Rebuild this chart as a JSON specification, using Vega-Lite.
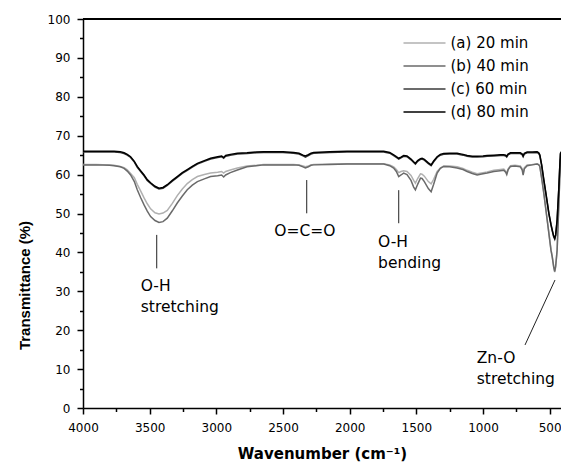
{
  "$schema": "https://vega.github.io/schema/vega-lite/v6.json",
  "width": 478,
  "height": 389,
  "autosize": {"type": "none"},
  "padding": {"left": 83, "top": 19, "right": 0, "bottom": 59},
  "background": "white",
  "config": {
    "view": {"stroke": null},
    "axis": {
      "grid": false,
      "domainColor": "black",
      "domainWidth": 1.5,
      "tickColor": "black",
      "tickWidth": 1.5,
      "labelColor": "black",
      "labelFont": "DejaVu Sans",
      "labelFontSize": 12,
      "labelOverlap": false,
      "labelFlush": false,
      "labelBound": false,
      "titleColor": "black"
    },
    "axisX": {
      "titleFont": "DejaVu Sans",
      "titleFontSize": 15,
      "titleFontWeight": "bold",
      "titlePadding": 13,
      "labelPadding": 8
    },
    "axisY": {
      "titleFont": "Liberation Sans",
      "titleFontSize": 15,
      "titleFontWeight": "bold",
      "titleX": -59,
      "titleY": 266,
      "titleBaseline": "middle",
      "titleAlign": "center",
      "labelPadding": 7
    }
  },
  "datasets": {
    "spectra": [
      {"w":4000,"a":62.6,"b":62.5,"c":65.8,"d":66.0},
      {"w":3900,"a":62.6,"b":62.5,"c":65.8,"d":66.0},
      {"w":3800,"a":62.5,"b":62.4,"c":65.8,"d":66.0},
      {"w":3767,"a":62.4,"b":62.3,"c":65.8,"d":66.0},
      {"w":3720,"a":62.1,"b":62.0,"c":65.7,"d":65.9},
      {"w":3692,"a":61.8,"b":61.6,"c":65.4,"d":65.6},
      {"w":3668,"a":61.2,"b":60.9,"c":65.0,"d":65.2},
      {"w":3643,"a":60.3,"b":59.9,"c":64.4,"d":64.6},
      {"w":3615,"a":59.2,"b":58.2,"c":63.2,"d":63.4},
      {"w":3593,"a":57.5,"b":56.1,"c":61.9,"d":62.1},
      {"w":3568,"a":55.8,"b":54.1,"c":60.8,"d":61.0},
      {"w":3542,"a":54.0,"b":52.2,"c":59.7,"d":59.9},
      {"w":3518,"a":52.5,"b":50.6,"c":58.5,"d":58.7},
      {"w":3493,"a":51.2,"b":49.2,"c":57.7,"d":57.9},
      {"w":3460,"a":50.2,"b":48.2,"c":56.8,"d":57.0},
      {"w":3430,"a":49.9,"b":47.7,"c":56.3,"d":56.5},
      {"w":3400,"a":50.1,"b":47.9,"c":56.5,"d":56.7},
      {"w":3368,"a":50.8,"b":48.8,"c":57.2,"d":57.4},
      {"w":3330,"a":52.6,"b":50.7,"c":58.3,"d":58.5},
      {"w":3293,"a":54.6,"b":52.7,"c":59.3,"d":59.5},
      {"w":3255,"a":56.3,"b":54.5,"c":60.3,"d":60.5},
      {"w":3218,"a":57.7,"b":56.1,"c":61.1,"d":61.3},
      {"w":3180,"a":58.7,"b":57.3,"c":61.9,"d":62.1},
      {"w":3142,"a":59.5,"b":58.2,"c":62.7,"d":62.9},
      {"w":3090,"a":60.0,"b":58.9,"c":63.4,"d":63.6},
      {"w":3043,"a":60.4,"b":59.5,"c":64.0,"d":64.2},
      {"w":2990,"a":60.6,"b":59.7,"c":64.4,"d":64.6},
      {"w":2960,"a":60.8,"b":59.9,"c":64.6,"d":64.8},
      {"w":2945,"a":60.4,"b":59.4,"c":64.2,"d":64.4},
      {"w":2930,"a":60.8,"b":59.9,"c":64.7,"d":64.9},
      {"w":2895,"a":61.2,"b":60.5,"c":65.0,"d":65.2},
      {"w":2842,"a":61.7,"b":61.2,"c":65.3,"d":65.5},
      {"w":2770,"a":62.2,"b":62.0,"c":65.4,"d":65.6},
      {"w":2700,"a":62.4,"b":62.3,"c":65.6,"d":65.8},
      {"w":2645,"a":62.6,"b":62.5,"c":65.7,"d":65.9},
      {"w":2500,"a":62.6,"b":62.5,"c":65.7,"d":65.9},
      {"w":2420,"a":62.6,"b":62.5,"c":65.5,"d":65.7},
      {"w":2380,"a":62.5,"b":62.4,"c":65.3,"d":65.5},
      {"w":2350,"a":62.2,"b":62.0,"c":64.8,"d":65.0},
      {"w":2332,"a":62.0,"b":61.7,"c":64.5,"d":64.8},
      {"w":2310,"a":62.2,"b":62.0,"c":64.9,"d":65.1},
      {"w":2290,"a":62.5,"b":62.4,"c":65.3,"d":65.5},
      {"w":2270,"a":62.6,"b":62.5,"c":65.5,"d":65.7},
      {"w":2150,"a":62.7,"b":62.6,"c":65.7,"d":65.9},
      {"w":2019,"a":62.8,"b":62.7,"c":65.8,"d":66.0},
      {"w":1900,"a":62.8,"b":62.7,"c":65.8,"d":66.0},
      {"w":1745,"a":62.8,"b":62.7,"c":65.8,"d":66.0},
      {"w":1700,"a":62.5,"b":62.3,"c":65.5,"d":65.7},
      {"w":1670,"a":62.0,"b":61.7,"c":64.9,"d":65.1},
      {"w":1650,"a":61.3,"b":60.8,"c":64.4,"d":64.6},
      {"w":1632,"a":60.5,"b":59.5,"c":64.0,"d":64.2},
      {"w":1615,"a":60.8,"b":59.9,"c":64.3,"d":64.5},
      {"w":1595,"a":61.0,"b":60.4,"c":64.7,"d":64.9},
      {"w":1570,"a":60.8,"b":60.0,"c":64.6,"d":64.8},
      {"w":1540,"a":59.8,"b":58.5,"c":63.8,"d":64.0},
      {"w":1520,"a":58.5,"b":56.8,"c":63.1,"d":63.3},
      {"w":1507,"a":57.8,"b":56.1,"c":62.7,"d":62.9},
      {"w":1490,"a":59.0,"b":57.5,"c":63.4,"d":63.6},
      {"w":1469,"a":60.2,"b":59.1,"c":63.9,"d":64.1},
      {"w":1457,"a":60.1,"b":59.0,"c":64.0,"d":64.2},
      {"w":1440,"a":59.6,"b":58.2,"c":63.7,"d":63.9},
      {"w":1410,"a":58.2,"b":56.4,"c":62.8,"d":63.0},
      {"w":1389,"a":57.6,"b":55.6,"c":62.3,"d":62.5},
      {"w":1370,"a":58.8,"b":57.5,"c":63.3,"d":63.5},
      {"w":1344,"a":60.8,"b":60.4,"c":64.4,"d":64.6},
      {"w":1320,"a":61.7,"b":61.6,"c":65.0,"d":65.2},
      {"w":1295,"a":62.2,"b":62.1,"c":65.2,"d":65.4},
      {"w":1250,"a":62.2,"b":62.0,"c":65.3,"d":65.5},
      {"w":1194,"a":62.0,"b":61.7,"c":65.3,"d":65.5},
      {"w":1150,"a":61.6,"b":61.3,"c":65.0,"d":65.2},
      {"w":1119,"a":61.1,"b":60.8,"c":64.7,"d":64.9},
      {"w":1080,"a":60.6,"b":60.3,"c":64.5,"d":64.7},
      {"w":1044,"a":60.2,"b":59.9,"c":64.5,"d":64.7},
      {"w":1000,"a":60.5,"b":60.2,"c":64.6,"d":64.8},
      {"w":969,"a":60.7,"b":60.4,"c":64.7,"d":64.9},
      {"w":919,"a":61.1,"b":60.8,"c":64.8,"d":65.0},
      {"w":870,"a":61.3,"b":61.0,"c":64.9,"d":65.1},
      {"w":844,"a":61.4,"b":61.1,"c":64.9,"d":65.1},
      {"w":830,"a":60.9,"b":60.6,"c":64.8,"d":65.0},
      {"w":822,"a":60.4,"b":60.0,"c":64.5,"d":64.7},
      {"w":812,"a":61.4,"b":61.2,"c":65.1,"d":65.3},
      {"w":794,"a":62.3,"b":62.1,"c":65.4,"d":65.6},
      {"w":760,"a":62.4,"b":62.2,"c":65.4,"d":65.6},
      {"w":720,"a":62.2,"b":62.0,"c":65.4,"d":65.6},
      {"w":706,"a":61.5,"b":61.2,"c":65.1,"d":65.3},
      {"w":699,"a":60.3,"b":59.9,"c":64.6,"d":64.8},
      {"w":690,"a":61.8,"b":61.5,"c":65.3,"d":65.5},
      {"w":669,"a":62.5,"b":62.3,"c":65.6,"d":65.8},
      {"w":630,"a":62.6,"b":62.5,"c":65.6,"d":65.8},
      {"w":594,"a":62.8,"b":62.7,"c":65.7,"d":65.9},
      {"w":582,"a":62.6,"b":62.5,"c":65.4,"d":65.6},
      {"w":574,"a":62.2,"b":62.1,"c":64.9,"d":65.1},
      {"w":560,"a":59.2,"b":59.0,"c":62.3,"d":62.5},
      {"w":544,"a":55.4,"b":55.2,"c":58.5,"d":58.7},
      {"w":525,"a":50.2,"b":50.0,"c":54.3,"d":54.5},
      {"w":506,"a":45.1,"b":44.9,"c":49.9,"d":50.1},
      {"w":490,"a":40.7,"b":40.5,"c":47.0,"d":47.2},
      {"w":481,"a":39.0,"b":38.9,"c":45.6,"d":45.8},
      {"w":470,"a":36.4,"b":36.3,"c":44.0,"d":44.2},
      {"w":462,"a":34.9,"b":35.1,"c":43.4,"d":43.6},
      {"w":455,"a":36.3,"b":36.5,"c":44.3,"d":44.5},
      {"w":444,"a":40.5,"b":40.6,"c":48.2,"d":48.4},
      {"w":432,"a":51.8,"b":51.8,"c":55.9,"d":56.1},
      {"w":425,"a":58.5,"b":58.5,"c":61.3,"d":61.5},
      {"w":419,"a":63.8,"b":63.8,"c":65.3,"d":65.5},
      {"w":410,"a":65.5,"b":65.5,"c":65.8,"d":66.0},
      {"w":400,"a":66.0,"b":66.0,"c":66.0,"d":66.2}
    ],
    "leaders": [
      {"w":3447,"t":44.5,"w2":3447,"t2":35.9},
      {"w":2322,"t":58.6,"w2":2322,"t2":50.05},
      {"w":1632,"t":56.0,"w2":1632,"t2":47.5},
      {"w":460,"t":32.9,"w2":685,"t2":16.2}
    ],
    "notes": [
      {"w":3567,"t":30.0,"label":"O-H\nstretching"},
      {"w":2565,"t":44.3,"label":"O=C=O"},
      {"w":1787,"t":41.3,"label":"O-H\nbending"},
      {"w":1047,"t":11.5,"label":"Zn-O\nstretching"}
    ]
  },
  "layer": [
    {
      "data": {"name": "spectra"},
      "transform": [{"fold": ["a", "b", "c", "d"], "as": ["series", "t"]}],
      "mark": {"type": "line", "strokeWidth": 1.5, "clip": true},
      "encoding": {
        "x": {
          "field": "w",
          "type": "quantitative",
          "title": "Wavenumber (cm⁻¹)",
          "scale": {"domain": [415, 4000], "reverse": true, "nice": false, "zero": false},
          "axis": {
            "values": [500, 750, 1000, 1250, 1500, 1750, 2000, 2250, 2500, 2750, 3000, 3250, 3500, 3750, 4000],
            "format": "d",
            "labelOverlap": false,
            "labelExpr": "datum.value % 500 === 0 ? datum.label : ''",
            "tickSize": {"condition": {"test": "datum.value % 500 === 0", "value": 6}, "value": 3.5}
          }
        },
        "y": {
          "field": "t",
          "type": "quantitative",
          "title": "Transmittance (%)",
          "scale": {"domain": [0, 100], "nice": false},
          "axis": {
            "values": [0, 5, 10, 15, 20, 25, 30, 35, 40, 45, 50, 55, 60, 65, 70, 75, 80, 85, 90, 95, 100],
            "labelOverlap": false,
            "labelExpr": "datum.value % 10 === 0 ? datum.label : ''",
            "tickSize": {"condition": {"test": "datum.value % 10 === 0", "value": 6}, "value": 3.5}
          }
        },
        "color": {
          "field": "series",
          "type": "nominal",
          "scale": {"domain": ["a", "b", "c", "d"], "range": ["#b0b0b0", "#6a6a6a", "#3a3a3a", "#000000"]},
          "legend": {
            "title": null,
            "orient": "none",
            "legendX": 333.5,
            "legendY": 16,
            "symbolType": "M-3,0H3",
            "symbolSize": 196,
            "symbolStrokeWidth": 1.5,
            "symbolFillColor": "transparent",
            "labelFont": "DejaVu Sans",
            "labelFontSize": 15,
            "labelColor": "black",
            "labelOffset": 18,
            "rowPadding": 7,
            "padding": 0,
            "labelExpr": "{'a': '(a) 20 min', 'b': '(b) 40 min', 'c': '(c) 60 min', 'd': '(d) 80 min'}[datum.value]"
          }
        }
      }
    },
    {
      "data": {"values": [{"t": 100}]},
      "mark": {"type": "rule", "color": "black", "strokeWidth": 2},
      "encoding": {
        "y": {"field": "t", "type": "quantitative", "title": "Transmittance (%)",
          "axis": {
            "values": [0, 5, 10, 15, 20, 25, 30, 35, 40, 45, 50, 55, 60, 65, 70, 75, 80, 85, 90, 95, 100],
            "labelOverlap": false,
            "labelExpr": "datum.value % 10 === 0 ? datum.label : ''",
            "tickSize": {"condition": {"test": "datum.value % 10 === 0", "value": 6}, "value": 3.5}
          }}
      }
    },
    {
      "data": {"name": "leaders"},
      "mark": {"type": "rule", "color": "#222222", "strokeWidth": 1},
      "encoding": {
        "x": {"field": "w", "type": "quantitative", "title": "Wavenumber (cm⁻¹)",
          "axis": {
            "values": [500, 750, 1000, 1250, 1500, 1750, 2000, 2250, 2500, 2750, 3000, 3250, 3500, 3750, 4000],
            "format": "d",
            "labelOverlap": false,
            "labelExpr": "datum.value % 500 === 0 ? datum.label : ''",
            "tickSize": {"condition": {"test": "datum.value % 500 === 0", "value": 6}, "value": 3.5}
          }},
        "y": {"field": "t", "type": "quantitative", "title": "Transmittance (%)",
          "axis": {
            "values": [0, 5, 10, 15, 20, 25, 30, 35, 40, 45, 50, 55, 60, 65, 70, 75, 80, 85, 90, 95, 100],
            "labelOverlap": false,
            "labelExpr": "datum.value % 10 === 0 ? datum.label : ''",
            "tickSize": {"condition": {"test": "datum.value % 10 === 0", "value": 6}, "value": 3.5}
          }},
        "x2": {"field": "w2"},
        "y2": {"field": "t2"}
      }
    },
    {
      "data": {"name": "notes"},
      "mark": {"type": "text", "font": "DejaVu Sans", "fontSize": 15.5, "color": "black", "align": "left", "baseline": "alphabetic", "lineBreak": "\n", "lineHeight": 21},
      "encoding": {
        "x": {"field": "w", "type": "quantitative", "title": "Wavenumber (cm⁻¹)",
          "axis": {
            "values": [500, 750, 1000, 1250, 1500, 1750, 2000, 2250, 2500, 2750, 3000, 3250, 3500, 3750, 4000],
            "format": "d",
            "labelOverlap": false,
            "labelExpr": "datum.value % 500 === 0 ? datum.label : ''",
            "tickSize": {"condition": {"test": "datum.value % 500 === 0", "value": 6}, "value": 3.5}
          }},
        "y": {"field": "t", "type": "quantitative", "title": "Transmittance (%)",
          "axis": {
            "values": [0, 5, 10, 15, 20, 25, 30, 35, 40, 45, 50, 55, 60, 65, 70, 75, 80, 85, 90, 95, 100],
            "labelOverlap": false,
            "labelExpr": "datum.value % 10 === 0 ? datum.label : ''",
            "tickSize": {"condition": {"test": "datum.value % 10 === 0", "value": 6}, "value": 3.5}
          }},
        "text": {"field": "label"}
      }
    }
  ]
}
